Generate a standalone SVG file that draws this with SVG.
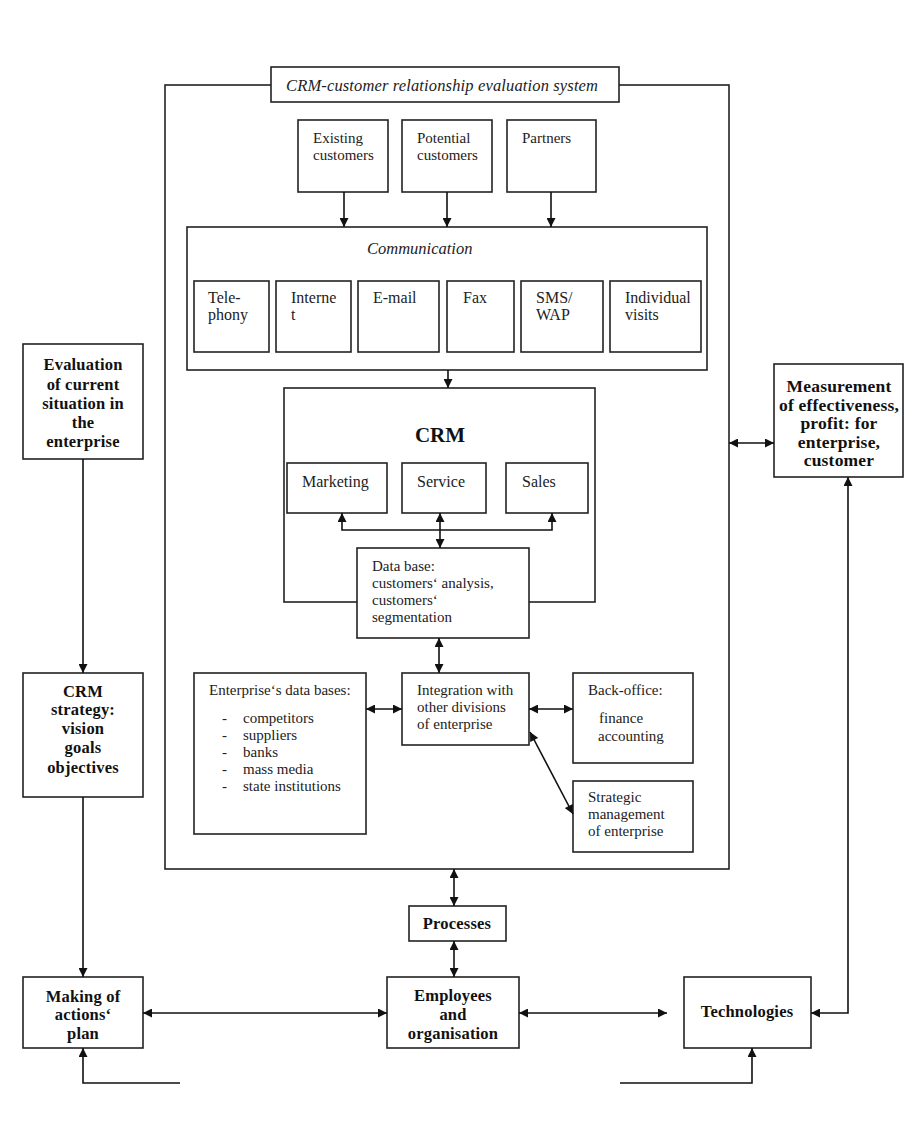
<svg xmlns="http://www.w3.org/2000/svg" width="905" height="1124" viewBox="0 0 905 1124">
  <style>
    .box { fill: #fff; stroke: #222; stroke-width: 1.6; }
    .frame { fill: none; stroke: #222; stroke-width: 1.6; }
    .ln { fill: none; stroke: #111; stroke-width: 1.6; }
    .t { font-family: "Liberation Serif", "Times New Roman", serif; font-size: 15px; fill: #222; }
    .t16 { font-family: "Liberation Serif", "Times New Roman", serif; font-size: 16px; fill: #222; }
    .it { font-family: "Liberation Serif", "Times New Roman", serif; font-style: italic; font-size: 16.5px; fill: #222; }
    .b { font-family: "Liberation Serif", "Times New Roman", serif; font-weight: bold; font-size: 16.5px; fill: #111; text-anchor: middle; letter-spacing: 0.2px; }
    .bm { font-family: "Liberation Serif", "Times New Roman", serif; font-weight: bold; font-size: 17.5px; fill: #111; text-anchor: middle; letter-spacing: 0.2px; }
  </style>
  <defs>
    <marker id="ah" viewBox="0 0 10 10" refX="10" refY="5" markerWidth="10" markerHeight="9" markerUnits="userSpaceOnUse" orient="auto-start-reverse">
      <path d="M0,0 L10,5 L0,10 z" fill="#111"/>
    </marker>
  </defs>
  <rect width="905" height="1124" fill="#fff"/>

  <!-- outer evaluation-system frame -->
  <g id="system-frame">
    <rect class="frame" x="165" y="85" width="564" height="784"/>
    <rect class="box" x="271" y="67" width="348" height="35"/>
    <text class="it" x="286" y="91" textLength="312" lengthAdjust="spacing">CRM-customer relationship evaluation system</text>
  </g>

  <!-- sources -->
  <g id="existing-customers">
    <rect class="box" x="298" y="120" width="90" height="72"/>
    <text class="t" x="313" y="143">Existing</text>
    <text class="t" x="313" y="160">customers</text>
  </g>
  <g id="potential-customers">
    <rect class="box" x="402" y="120" width="90" height="72"/>
    <text class="t" x="417" y="143">Potential</text>
    <text class="t" x="417" y="160">customers</text>
  </g>
  <g id="partners">
    <rect class="box" x="507" y="120" width="89" height="72"/>
    <text class="t" x="522" y="143">Partners</text>
  </g>

  <!-- communication channels -->
  <g id="communication">
    <rect class="box" x="187" y="227" width="520" height="143"/>
    <text class="it" x="367" y="254">Communication</text>
  </g>
  <g id="telephony">
    <rect class="box" x="194" y="281" width="75" height="71"/>
    <text class="t16" x="208" y="303">Tele-</text>
    <text class="t16" x="208" y="320">phony</text>
  </g>
  <g id="internet">
    <rect class="box" x="276" y="281" width="75" height="71"/>
    <text class="t16" x="291" y="303">Interne</text>
    <text class="t16" x="291" y="320">t</text>
  </g>
  <g id="email">
    <rect class="box" x="358" y="281" width="81" height="71"/>
    <text class="t16" x="373" y="303">E-mail</text>
  </g>
  <g id="fax">
    <rect class="box" x="447" y="281" width="67" height="71"/>
    <text class="t16" x="463" y="303">Fax</text>
  </g>
  <g id="sms-wap">
    <rect class="box" x="521" y="281" width="82" height="71"/>
    <text class="t16" x="536" y="303">SMS/</text>
    <text class="t16" x="536" y="320">WAP</text>
  </g>
  <g id="individual-visits">
    <rect class="box" x="610" y="281" width="91" height="71"/>
    <text class="t16" x="625" y="303">Individual</text>
    <text class="t16" x="625" y="320">visits</text>
  </g>

  <!-- CRM core -->
  <g id="crm">
    <rect class="box" x="284" y="388" width="311" height="214"/>
    <text x="440" y="442" text-anchor="middle" style="font-family:'Liberation Serif','Times New Roman',serif;font-weight:bold;font-size:21px;fill:#111">CRM</text>
  </g>
  <g id="marketing">
    <rect class="box" x="287" y="463" width="100" height="50"/>
    <text class="t16" x="302" y="487">Marketing</text>
  </g>
  <g id="service">
    <rect class="box" x="402" y="463" width="84" height="50"/>
    <text class="t16" x="417" y="487">Service</text>
  </g>
  <g id="sales">
    <rect class="box" x="506" y="463" width="82" height="50"/>
    <text class="t16" x="522" y="487">Sales</text>
  </g>
  <g id="database">
    <rect class="box" x="357" y="548" width="172" height="90"/>
    <text class="t" x="372" y="571">Data base:</text>
    <text class="t" x="372" y="588">customers‘ analysis,</text>
    <text class="t" x="372" y="605">customers‘</text>
    <text class="t" x="372" y="622">segmentation</text>
  </g>

  <!-- enterprise integration -->
  <g id="enterprise-databases">
    <rect class="box" x="194" y="673" width="172" height="161"/>
    <text class="t" x="209" y="695">Enterprise‘s data bases:</text>
    <text class="t" x="222" y="723">-</text><text class="t" x="243" y="723">competitors</text>
    <text class="t" x="222" y="740">-</text><text class="t" x="243" y="740">suppliers</text>
    <text class="t" x="222" y="757">-</text><text class="t" x="243" y="757">banks</text>
    <text class="t" x="222" y="774">-</text><text class="t" x="243" y="774">mass media</text>
    <text class="t" x="222" y="791">-</text><text class="t" x="243" y="791">state institutions</text>
  </g>
  <g id="integration">
    <rect class="box" x="402" y="673" width="127" height="72"/>
    <text class="t" x="417" y="695">Integration with</text>
    <text class="t" x="417" y="712">other divisions</text>
    <text class="t" x="417" y="729">of enterprise</text>
  </g>
  <g id="back-office">
    <rect class="box" x="573" y="673" width="120" height="90"/>
    <text class="t" x="588" y="695">Back-office:</text>
    <text class="t" x="599" y="723">finance</text>
    <text class="t" x="598" y="741">accounting</text>
  </g>
  <g id="strategic-management">
    <rect class="box" x="573" y="781" width="120" height="71"/>
    <text class="t" x="588" y="802">Strategic</text>
    <text class="t" x="588" y="819">management</text>
    <text class="t" x="588" y="836">of enterprise</text>
  </g>

  <!-- outside the frame -->
  <g id="evaluation">
    <rect class="box" x="23" y="344" width="120" height="115"/>
    <text class="b" x="83" y="370">Evaluation</text>
    <text class="b" x="83" y="390">of current</text>
    <text class="b" x="83" y="409">situation in</text>
    <text class="b" x="83" y="428">the</text>
    <text class="b" x="83" y="447">enterprise</text>
  </g>
  <g id="crm-strategy">
    <rect class="box" x="23" y="673" width="120" height="124"/>
    <text class="b" x="83" y="697">CRM</text>
    <text class="b" x="83" y="715">strategy:</text>
    <text class="b" x="83" y="734">vision</text>
    <text class="b" x="83" y="753">goals</text>
    <text class="b" x="83" y="773">objectives</text>
  </g>
  <g id="measurement">
    <rect class="box" x="774" y="364" width="129" height="113"/>
    <text class="bm" x="839" y="392">Measurement</text>
    <text class="bm" x="839" y="411">of effectiveness,</text>
    <text class="bm" x="839" y="429">profit: for</text>
    <text class="bm" x="839" y="448">enterprise,</text>
    <text class="bm" x="839" y="466">customer</text>
  </g>
  <g id="processes">
    <rect class="box" x="409" y="906" width="97" height="35"/>
    <text class="b" x="457" y="929">Processes</text>
  </g>
  <g id="action-plan">
    <rect class="box" x="23" y="977" width="120" height="71"/>
    <text class="b" x="83" y="1002">Making of</text>
    <text class="b" x="83" y="1020">actions‘</text>
    <text class="b" x="83" y="1039">plan</text>
  </g>
  <g id="employees">
    <rect class="box" x="387" y="977" width="132" height="71"/>
    <text class="b" x="453" y="1001">Employees</text>
    <text class="b" x="453" y="1020">and</text>
    <text class="b" x="453" y="1039">organisation</text>
  </g>
  <g id="technologies">
    <rect class="box" x="684" y="977" width="127" height="71"/>
    <text class="b" x="747" y="1017">Technologies</text>
  </g>

  <!-- connectors -->
  <g id="connectors">
    <line class="ln" x1="344" y1="192" x2="344" y2="227" marker-end="url(#ah)"/>
    <line class="ln" x1="447" y1="192" x2="447" y2="227" marker-end="url(#ah)"/>
    <line class="ln" x1="551" y1="192" x2="551" y2="227" marker-end="url(#ah)"/>
    <line class="ln" x1="448" y1="370" x2="448" y2="388" marker-end="url(#ah)"/>
    <!-- CRM functions to data base -->
    <polyline class="ln" points="342,513 342,530 552,530 552,513" marker-start="url(#ah)" marker-end="url(#ah)"/>
    <line class="ln" x1="440" y1="513" x2="440" y2="548" marker-start="url(#ah)" marker-end="url(#ah)"/>
    <line class="ln" x1="439" y1="638" x2="439" y2="673" marker-start="url(#ah)" marker-end="url(#ah)"/>
    <line class="ln" x1="366" y1="709" x2="402" y2="709" marker-start="url(#ah)" marker-end="url(#ah)"/>
    <line class="ln" x1="529" y1="709" x2="573" y2="709" marker-start="url(#ah)" marker-end="url(#ah)"/>
    <line class="ln" x1="530" y1="732" x2="573" y2="814" marker-start="url(#ah)" marker-end="url(#ah)"/>
    <!-- frame to measurement -->
    <line class="ln" x1="729" y1="443" x2="774" y2="443" marker-start="url(#ah)" marker-end="url(#ah)"/>
    <!-- left column -->
    <line class="ln" x1="83" y1="459" x2="83" y2="673" marker-end="url(#ah)"/>
    <line class="ln" x1="83" y1="797" x2="83" y2="977" marker-end="url(#ah)"/>
    <polyline class="ln" points="180,1083 83,1083 83,1048" marker-end="url(#ah)"/>
    <!-- bottom row -->
    <line class="ln" x1="454" y1="869" x2="454" y2="906" marker-start="url(#ah)" marker-end="url(#ah)"/>
    <line class="ln" x1="454" y1="941" x2="454" y2="977" marker-start="url(#ah)" marker-end="url(#ah)"/>
    <line class="ln" x1="143" y1="1013" x2="387" y2="1013" marker-start="url(#ah)" marker-end="url(#ah)"/>
    <line class="ln" x1="519" y1="1013" x2="667" y2="1013" marker-start="url(#ah)" marker-end="url(#ah)"/>
    <polyline class="ln" points="620,1083 752,1083 752,1048" marker-end="url(#ah)"/>
    <!-- right column -->
    <polyline class="ln" points="811,1013 848,1013 848,477" marker-start="url(#ah)" marker-end="url(#ah)"/>
  </g>
</svg>
